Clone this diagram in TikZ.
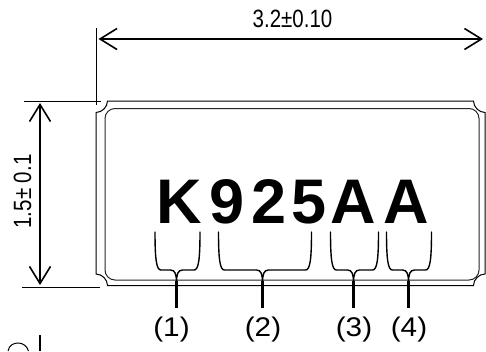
\documentclass[tikz,border=0pt]{standalone}
\usepackage{fontspec}
\setmainfont{Liberation Sans}
\newfontfamily\dimfont[FakeStretch=.82]{Liberation Sans}
\newfontfamily\lblfont[FakeStretch=1.1]{Liberation Sans}
\usepackage{tikz}
\usetikzlibrary{arrows.meta}
\tikzset{>={Straight Barb[length=17pt, width=21pt]}}
\tikzset{dimln/.style={line width=1.6pt, <->}, extln/.style={line width=.8pt}, edgeln/.style={line width=1pt}, brcln/.style={line width=1.4pt, line cap=round}}
\definecolor{inr}{gray}{.15}

\begin{document}
\begin{tikzpicture}[x=1pt, y=-1pt]
    \useasboundingbox(0, 0)rectangle(486, 351);
    \draw[extln](96, 28)--(96, 105);
    \draw[extln](24, 101)--(101, 101);
    \draw[extln](22, 287)--(100, 287);
    \coordinate(wl)at(98.5, 39);
    \coordinate(wr)at(483, 39);
    \coordinate(ht)at(40, 103);
    \coordinate(hb)at(40, 285);
    \draw[dimln](wl)--(wr);							%3.2
    \node[inner sep=0pt, anchor=base, font=\dimfont\fontsize{25}{25}\selectfont](wd)at(292.5, 27.5){3.2±0.10};
    \draw[dimln](ht)--(hb);							%1.5
    \node[inner sep=0pt, anchor=base, rotate=90, font=\dimfont\fontsize{25}{25}\selectfont](hg)at(31, 191.5){1.5± 0.1};
    \draw[edgeln](107.5, 101)--(473.5, 101)..controls(473.5, 107)and(479, 112.5)..(485, 112.5)--(485, 274)..controls(479, 274)and(473.5, 279.5)..(473.5, 285.5)--(107.5, 285.5)..controls(107.5, 279.5)and(102, 274)..(96, 274)--(96, 112.5)..controls(102, 112.5)and(107.5, 107)..cycle;
    \draw[edgeln, inr, rounded corners=10pt](105, 108.5)rectangle(479, 280);
    \node[inner sep=0pt, anchor=base west, font=\bfseries\fontsize{63}{63}\selectfont](mk)at(156, 223){K\kern7.5pt 9\kern7pt 2\kern5.5pt 5\kern4pt A\kern7pt A};
    \foreach \l/\r/\m/\lx/\n in {155/200/176.5/171.5/1, 218.5/311.5/262.5/263/2, 330.5/378.5/353.5/354/3, 386.5/431.5/408.5/409/4}{
        \draw[brcln](\l, 232)..controls(\l, 260)and(\l+1.5, 270)..(\l+6, 270)--(\m-6, 270)..controls(\m-1.5, 270)and(\m, 274)..(\m, 283)..controls(\m, 274)and(\m+1.5, 270)..(\m+6, 270)--(\r-6, 270)..controls(\r-1.5, 270)and(\r, 260)..(\r, 232);
        \draw[line width=2.2pt](\m, 281)--(\m, 308);
        \node[inner sep=0pt, anchor=base, font=\lblfont\fontsize{27}{27}\selectfont](lb\n)at(\lx, 336.5){(\n)};
    }
    \draw[line width=1pt](8, 351)..controls(9, 345)and(14, 343)..(18, 343)..controls(23, 343)and(27, 346)..(28.5, 351);
    \draw[line width=1.2pt](40, 335)--(40, 351);
\end{tikzpicture}
\end{document}
